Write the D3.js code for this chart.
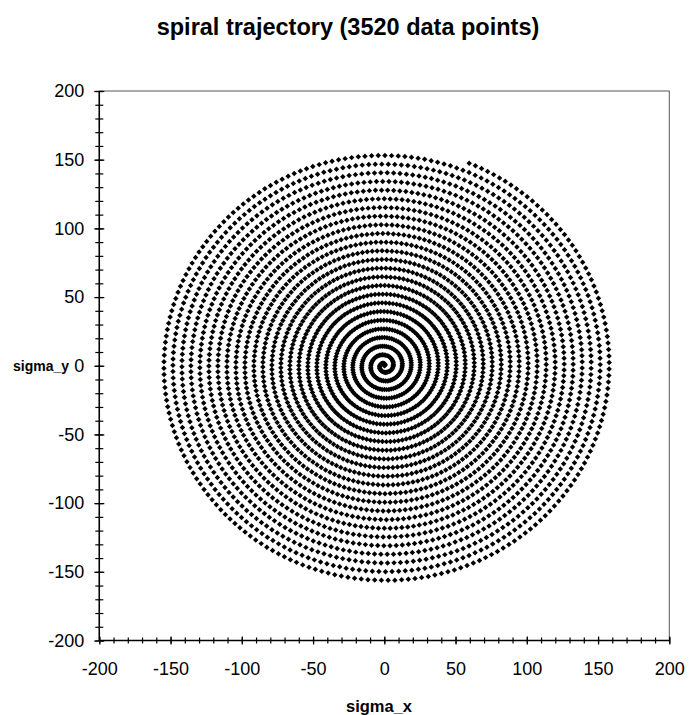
<!DOCTYPE html>
<html>
<head>
<meta charset="utf-8">
<script src="https://cdn.jsdelivr.net/npm/d3@7"></script>
<style>
  body { margin: 0; background: #fff; }
  svg { display: block; font-family: 'Liberation Sans', Arial, sans-serif; }
  .axis path { display: none; }
  .axis line { stroke: #000; stroke-width: 1.2; }
  .axis text { font-size: 18px; fill: #000; }
</style>
</head>
<body>
<svg id="chart"></svg>
<script>
// values
const title = 'spiral trajectory (3520 data points)'
const pointCount = [3520]
const spiralTurns = [25 + 68 / 360]   // rings counted from centre to end
const spiralEndRadius = [159]          // data units at the last point
const spiralEndAngle = [68]            // degrees, last point sits upper right
const angleExponent = [2 / 3]          // outer rings are sparser than inner ones
const majorTicks = [-200, -150, -100, -50, 0, 50, 100, 150, 200]
const minorTicks = d3.range(-200, 201, 10)
const labels = { x: 'sigma_x', y: 'sigma_y' }

const buildSpiral = () => {
  const n = pointCount[0]
  const thetaMax = spiralTurns[0] * 2 * Math.PI
  const start = spiralEndAngle[0] * Math.PI / 180 - thetaMax
  return d3.range(n).map(i => {
    const th = thetaMax * Math.pow(i / (n - 1), angleExponent[0])
    const r = spiralEndRadius[0] * th / thetaMax
    return { x: r * Math.cos(th + start), y: r * Math.sin(th + start) }
  })
}

const drawAxes = (chart, scales, dims) => {
  chart.append('rect')
    .attr('x', dims.left)
    .attr('y', dims.top)
    .attr('width', dims.right - dims.left)
    .attr('height', dims.bottom - dims.top)
    .style('fill', 'none')
    .style('stroke', '#555')
    .style('stroke-width', 1)

  const yMinor = chart.append('g')
    .attr('class', 'axis')
    .attr('transform', `translate(${dims.left}, 0)`)
    .call(d3.axisLeft(scales.y).tickValues(minorTicks).tickSize(4).tickFormat(''))
  yMinor.selectAll('line').attr('x1', 4)

  const yMajor = chart.append('g')
    .attr('class', 'axis')
    .attr('transform', `translate(${dims.left}, 0)`)
    .call(d3.axisLeft(scales.y).tickValues(majorTicks).tickSize(5).tickPadding(10).tickFormat(d => String(d)))
  yMajor.selectAll('line').attr('x1', 5)

  const xMinor = chart.append('g')
    .attr('class', 'axis')
    .attr('transform', `translate(0, ${dims.bottom})`)
    .call(d3.axisBottom(scales.x).tickValues(minorTicks).tickSize(3).tickFormat(''))
  xMinor.selectAll('line').attr('y1', -3)

  const xMajor = chart.append('g')
    .attr('class', 'axis')
    .attr('transform', `translate(0, ${dims.bottom})`)
    .call(d3.axisBottom(scales.x).tickValues(majorTicks).tickSize(4).tickPadding(18).tickFormat(d => String(d)))
  xMajor.selectAll('line').attr('y1', -4)

  chart.append('line')
    .attr('x1', dims.left).attr('x2', dims.left)
    .attr('y1', dims.top).attr('y2', dims.bottom)
    .style('stroke', '#000').style('stroke-width', 1.5)

  chart.append('line')
    .attr('x1', dims.left).attr('x2', dims.right)
    .attr('y1', dims.bottom).attr('y2', dims.bottom)
    .style('stroke', '#000').style('stroke-width', 1.5)
}

const drawPoints = (chart, scales, data) => {
  const marker = d3.symbol().type(d3.symbolSquare).size(15)
  chart.append('g')
    .selectAll('path')
    .data(data)
    .join('path')
    .attr('d', marker)
    .attr('transform', d => `translate(${scales.x(d.x)}, ${scales.y(d.y)}) rotate(45)`)
    .style('fill', '#000')
}

const drawText = (chart) => {
  chart.append('text')
    .attr('x', 348)
    .attr('y', 35)
    .attr('text-anchor', 'middle')
    .style('font-size', '23.5px')
    .style('font-weight', 'bold')
    .text(title)

  chart.append('text')
    .attr('x', 379)
    .attr('y', 712)
    .attr('text-anchor', 'middle')
    .style('font-size', '16.5px')
    .style('font-weight', 'bold')
    .text(labels.x)

  chart.append('text')
    .attr('x', 41)
    .attr('y', 371)
    .attr('text-anchor', 'middle')
    .style('font-size', '14px')
    .style('font-weight', 'bold')
    .text(labels.y)
}

const dims = { w: 696, h: 715, left: 99.3, right: 669.3, top: 91, bottom: 640.5 }

const scales = {
  x: d3.scaleLinear().domain([-200, 200]).range([dims.left, dims.right]),
  y: d3.scaleLinear().domain([-200, 200]).range([dims.bottom, dims.top])
}

const chart = d3.select('#chart')
  .attr('width', dims.w)
  .attr('height', dims.h)

drawAxes(chart, scales, dims)
drawPoints(chart, scales, buildSpiral())
drawText(chart)
</script>
</body>
</html>
